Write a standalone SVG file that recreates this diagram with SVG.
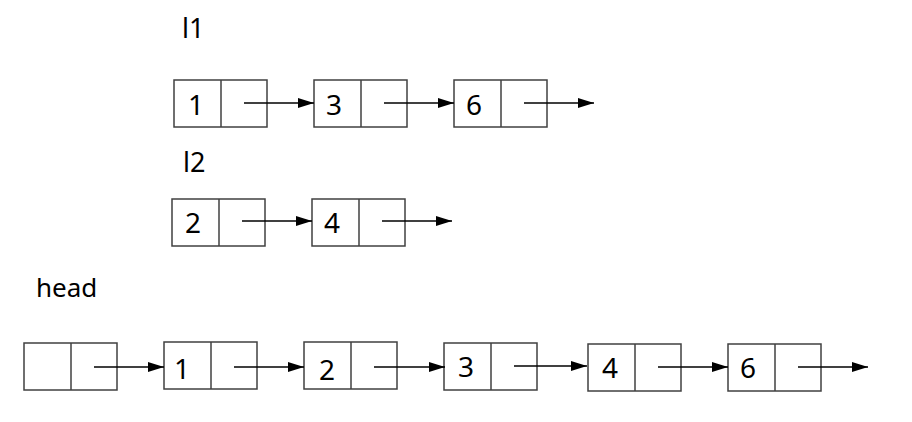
<svg xmlns="http://www.w3.org/2000/svg" width="912" height="422" viewBox="0 0 912 422">
<defs>
<marker id="ah" markerWidth="16" markerHeight="10" refX="16" refY="5" orient="auto" markerUnits="userSpaceOnUse">
<path d="M0,0 L16,5 L0,10 Z" fill="#000"/>
</marker>
<style>
.box{fill:#fff;stroke:#404040;stroke-width:1.5}
.t{font-family:"Noto Sans","Liberation Sans",sans-serif;font-size:26px;fill:#000}
.d{font-size:28px}
.c line{stroke:#000;stroke-width:1.3;marker-end:url(#ah)}
</style>
</defs>
<rect width="912" height="422" fill="#fff"/>
<text class="t" x="182" y="38" style="font-size:27px">l1</text>
<text class="t" x="183" y="172" style="font-size:27px">l2</text>
<text class="t" x="36" y="297">head</text>

<g id="l1n1"><rect class="box" x="174" y="80" width="93" height="47"/><line class="box" x1="221" y1="80" x2="221" y2="127"/><text class="t d" x="188" y="115">1</text></g>
<g id="l1n3"><rect class="box" x="314" y="80" width="93" height="47"/><line class="box" x1="361" y1="80" x2="361" y2="127"/><text class="t d" x="326" y="115">3</text></g>
<g id="l1n6"><rect class="box" x="454" y="80" width="93" height="47"/><line class="box" x1="501" y1="80" x2="501" y2="127"/><text class="t d" x="466" y="115">6</text></g>

<g id="l2n2"><rect class="box" x="172" y="199" width="93" height="47"/><line class="box" x1="219" y1="199" x2="219" y2="246"/><text class="t d" x="185" y="233">2</text></g>
<g id="l2n4"><rect class="box" x="312" y="199" width="93" height="47"/><line class="box" x1="359" y1="199" x2="359" y2="246"/><text class="t d" x="324" y="233">4</text></g>

<g id="hn0"><rect class="box" x="24" y="343" width="93" height="47"/><line class="box" x1="71" y1="343" x2="71" y2="390"/></g>
<g id="hn1"><rect class="box" x="164" y="342" width="93" height="47"/><line class="box" x1="211" y1="342" x2="211" y2="389"/><text class="t d" x="174" y="379">1</text></g>
<g id="hn2"><rect class="box" x="304" y="342" width="93" height="47"/><line class="box" x1="351" y1="342" x2="351" y2="389"/><text class="t d" x="319" y="380">2</text></g>
<g id="hn3"><rect class="box" x="444" y="343" width="93" height="47"/><line class="box" x1="491" y1="343" x2="491" y2="390"/><text class="t d" x="458" y="377">3</text></g>
<g id="hn4"><rect class="box" x="588" y="344" width="93" height="47"/><line class="box" x1="635" y1="344" x2="635" y2="391"/><text class="t d" x="602" y="378">4</text></g>
<g id="hn6"><rect class="box" x="728" y="344" width="93" height="47"/><line class="box" x1="775" y1="344" x2="775" y2="391"/><text class="t d" x="740" y="378">6</text></g>

<g class="c" id="connectors">
<line x1="244" y1="103" x2="314" y2="103"/>
<line x1="384" y1="103" x2="454" y2="103"/>
<line x1="524" y1="103" x2="594" y2="103"/>
<line x1="242" y1="221" x2="312" y2="221"/>
<line x1="382" y1="221" x2="452" y2="221"/>
<line x1="94" y1="367" x2="164" y2="367"/>
<line x1="234" y1="367" x2="304" y2="367"/>
<line x1="374" y1="367" x2="445" y2="367"/>
<line x1="514" y1="366" x2="587" y2="366"/>
<line x1="658" y1="367" x2="728" y2="367"/>
<line x1="798" y1="367" x2="868" y2="367"/>
</g>
</svg>
